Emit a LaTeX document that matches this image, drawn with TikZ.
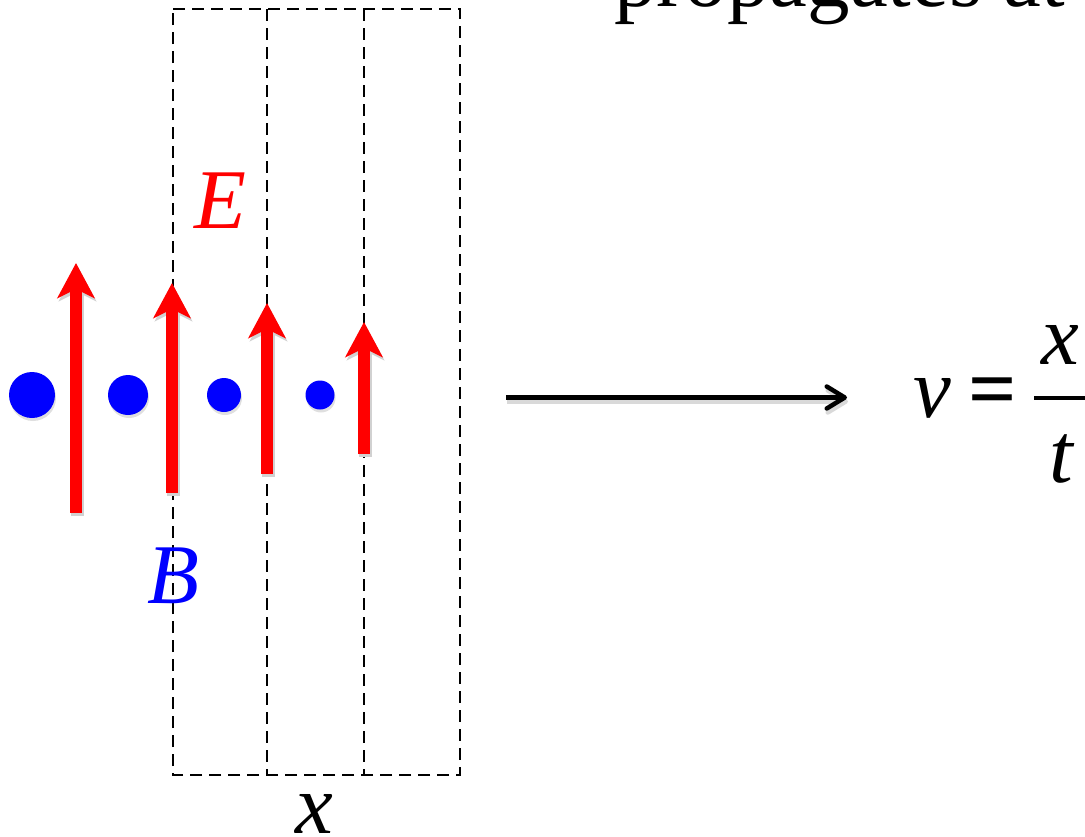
\documentclass[tikz,border=0pt]{standalone}
\usepackage{fontspec}
\setmainfont{Liberation Serif}
\usetikzlibrary{arrows.meta,shadows}
\begin{document}
\begin{tikzpicture}[x=1pt,y=-1pt,
  big/.style={inner sep=0pt, outer sep=0pt, anchor=base west, font=\fontsize{85}{100}\selectfont},
  dashline/.style={draw=black, line width=1.8pt, dash pattern=on 12pt off 7pt},
  efield/.style={draw=red, line width=12.5pt, -{Stealth[width=37pt,length=35pt,inset=9pt]}},
  eshadow/.style={draw=black!18, line width=12.5pt, -{Stealth[width=37pt,length=35pt,inset=9pt]}},
  bdot/.style={circle, fill=blue, inner sep=0pt, outer sep=0pt,
    drop shadow={shadow xshift=1pt, shadow yshift=-3pt, opacity=0.25}},
  flow/.style={draw=black, line width=4.5pt, -{Straight Barb[length=18pt,width=22pt,round]}},
  flowshadow/.style={draw=black!15, line width=4.5pt, -{Straight Barb[length=18pt,width=22pt,round]}}
]
\useasboundingbox (0,0) rectangle (1085,836);
\clip (0,0) rectangle (1085,836);

% dashed frames
\coordinate (f1t) at (173,9);   \coordinate (f1b) at (173,775);
\coordinate (f2t) at (267,9);   \coordinate (f2b) at (267,775);
\coordinate (f3t) at (364,9);   \coordinate (f3b) at (364,775);
\coordinate (f4t) at (460,9);   \coordinate (f4b) at (460,775);
\draw[dashline] (f1t) -- (f4t) -- (f4b) -- (f1b) -- cycle;
\draw[dashline] (f2t) -- (f2b);
\draw[dashline] (f3t) -- (f3b);

% title (cut off at top)
\node[big] (title) at (614,6) {propagates at};

% B dots
\node[bdot, minimum size=46pt] (d1) at (32,395) {};
\node[bdot, minimum size=40pt] (d2) at (128,395) {};
\node[bdot, minimum size=34pt] (d3) at (224,395) {};
\node[bdot, minimum size=29pt] (d4) at (320,395) {};

% E arrows
\coordinate (a1b) at (76,513); \coordinate (a1t) at (76,263);
\coordinate (a2b) at (172,493); \coordinate (a2t) at (172,283);
\coordinate (a3b) at (267,474); \coordinate (a3t) at (267,303);
\coordinate (a4b) at (364,454); \coordinate (a4t) at (364,322);
\foreach \i in {1,2,3,4}{
  \draw[eshadow] ([shift={(1.5,3)}]a\i b) -- ([shift={(1.5,3)}]a\i t);
}
\foreach \i in {1,2,3,4}{
  \draw[efield] (a\i b) -- (a\i t);
}

% labels
\node[big, text=red] (E) at (194,228) {\itshape E};
\node[big, text=blue] (B) at (147,603) {\itshape B};
\node[big] (xl) at (295,833) {\itshape x};

% propagation arrow
\coordinate (ps) at (506,397.5);
\coordinate (pe) at (847,397.5);
\draw[flowshadow] ([shift={(1,4)}]ps) -- ([shift={(1,4)}]pe);
\draw[flow] (ps) -- (pe);

% formula
\node[big] (v) at (913,417) {\itshape v};
\node[big] (eq) at (968,417) {\bfseries =};
\node[big] (num) at (1041,364) {\itshape x};
\node[big] (den) at (1049,482) {\itshape t};
\coordinate (bar1) at (1034,398);
\coordinate (bar2) at (1095,398);
\draw[line width=4.5pt] (bar1) -- (bar2);
\end{tikzpicture}
\end{document}
